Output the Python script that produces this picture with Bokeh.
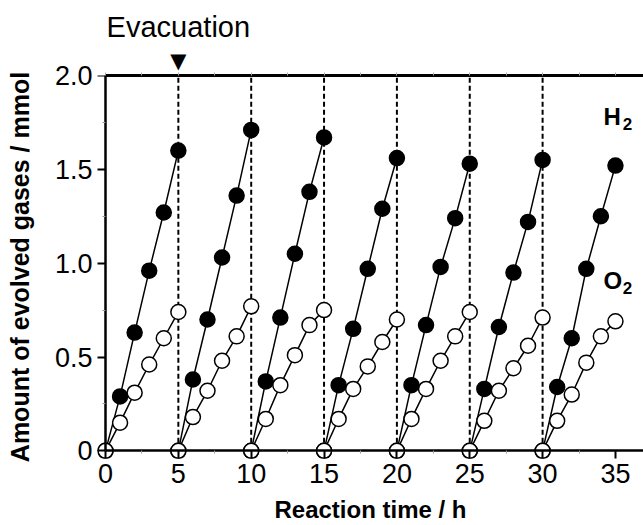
from bokeh.plotting import figure
from bokeh.models import LinearAxis, FixedTicker, Range1d
from bokeh.core.properties import value
from bokeh.embed import file_html
from bokeh.resources import INLINE

# ---------------- data ----------------
cycle_starts = [0, 5, 10, 15, 20, 25, 30]
hours_in_cycle = [0, 1, 2, 3, 4, 5]
h2_cycles = [
    [0, 0.29, 0.63, 0.96, 1.27, 1.60],
    [0, 0.38, 0.70, 1.03, 1.36, 1.71],
    [0, 0.37, 0.71, 1.05, 1.38, 1.67],
    [0, 0.35, 0.65, 0.97, 1.29, 1.56],
    [0, 0.35, 0.67, 0.98, 1.24, 1.53],
    [0, 0.33, 0.66, 0.95, 1.22, 1.55],
    [0, 0.34, 0.60, 0.97, 1.25, 1.52],
]
o2_cycles = [
    [0, 0.15, 0.31, 0.46, 0.60, 0.74],
    [0, 0.18, 0.32, 0.48, 0.61, 0.77],
    [0, 0.17, 0.35, 0.51, 0.67, 0.75],
    [0, 0.17, 0.33, 0.45, 0.58, 0.70],
    [0, 0.17, 0.33, 0.48, 0.61, 0.74],
    [0, 0.16, 0.32, 0.44, 0.56, 0.71],
    [0, 0.16, 0.30, 0.47, 0.61, 0.69],
]
evacuation_times = [5, 10, 15, 20, 25, 30]
evacuation_marker_time = 5
evacuation_text = "Evacuation"
x_ticks = [0, 5, 10, 15, 20, 25, 30, 35]
x_minor_ticks = [2.5, 7.5, 12.5, 17.5, 22.5, 27.5, 32.5]
y_ticks = [0, 0.5, 1.0, 1.5, 2.0]
y_tick_labels = ["0", "0.5", "1.0", "1.5", "2.0"]
y_minor_ticks = [0.25, 0.75, 1.25, 1.75]
x_title = "Reaction time / h"
y_title = "Amount of evolved gases / mmol"
series_names = ["H", "O"]

FONT = "Liberation Sans"
X0, X1 = -0.549, 36.925
Y0, Y1 = -0.0408, 2.0

p = figure(width=643, height=525, x_range=Range1d(X0, X1), y_range=Range1d(Y0, Y1),
           output_backend="svg", toolbar_location=None,
           x_axis_location=None, y_axis_location=None,
           min_border_left=97, min_border_right=0, min_border_top=75, min_border_bottom=65)
p.outline_line_color = None
p.xgrid.visible = False
p.ygrid.visible = False
p.background_fill_color = "white"
p.border_fill_color = "white"

# evacuation dashed lines
p.segment(x0=evacuation_times, y0=[0] * len(evacuation_times),
          x1=evacuation_times, y1=[2.0] * len(evacuation_times),
          line_color="black", line_width=2, line_dash="5 3")

# lines
xs_all = [[s + h for h in hours_in_cycle] for s in cycle_starts]
p.multi_line(xs=xs_all, ys=h2_cycles, line_color="black", line_width=1.5)
p.multi_line(xs=xs_all, ys=o2_cycles, line_color="black", line_width=1.5)

# markers
hx, hy, ox, oy = [], [], [], []
for xs, hv, ov in zip(xs_all, h2_cycles, o2_cycles):
    hx += xs; hy += hv; ox += xs; oy += ov
p.scatter(hx, hy, size=15, fill_color="black", line_color="black", line_width=1.5)
p.scatter(ox, oy, size=15, fill_color="white", line_color="black", line_width=1.5)

# ---- axis lines + ticks at data zero (fixed location) ----
yline = LinearAxis(fixed_location=0, bounds=(0, 2.0),
                   ticker=FixedTicker(ticks=y_ticks, minor_ticks=y_minor_ticks))
xline = LinearAxis(fixed_location=0, bounds=(0, X1),
                   ticker=FixedTicker(ticks=x_ticks, minor_ticks=x_minor_ticks))
for ax in (xline, yline):
    ax.axis_line_width = 2.5
    ax.axis_line_color = "black"
    ax.major_tick_line_width = 2
    ax.major_tick_out = 9
    ax.major_tick_in = 0
    ax.minor_tick_line_color = "#999999"
    ax.minor_tick_line_width = 1
    ax.minor_tick_out = 3
    ax.minor_tick_in = 0
    ax.major_label_text_font_size = "0px"
    ax.major_label_text_alpha = 0
p.add_layout(yline, "left")
p.add_layout(xline, "below")

# ---- label-only axes in the side panels ----
ylab = LinearAxis(ticker=FixedTicker(ticks=y_ticks, minor_ticks=[]))
ylab.major_label_overrides = {t: l for t, l in zip(y_ticks, y_tick_labels)}
ylab.axis_label = y_title
xlab = LinearAxis(ticker=FixedTicker(ticks=x_ticks, minor_ticks=[]))
xlab.axis_label = x_title
for ax in (xlab, ylab):
    ax.axis_line_color = None
    ax.major_tick_line_color = None
    ax.minor_tick_line_color = None
    ax.major_tick_out = 0
    ax.major_tick_in = 0
    ax.major_label_text_font = FONT
    ax.major_label_text_font_size = "27px"
    ax.major_label_text_color = "black"
    ax.axis_label_text_font = FONT
    ax.axis_label_text_font_style = "bold"
    ax.axis_label_text_color = "black"
ylab.major_label_standoff = 5
ylab.axis_label_text_font_size = "25px"
ylab.axis_label_standoff = 18
xlab.major_label_standoff = 5
xlab.axis_label_text_font_size = "24px"
xlab.axis_label_standoff = 10
p.add_layout(ylab, "left")
p.add_layout(xlab, "below")

# ---- top frame line with faint ticks and the evacuation marker ----
top_ticks = sorted(x_ticks + x_minor_ticks)
top = LinearAxis(bounds=(0, X1), ticker=FixedTicker(ticks=top_ticks, minor_ticks=[]))
top.major_label_overrides = {t: ("▼" if t == evacuation_marker_time else "") for t in top_ticks}
top.axis_line_width = 3
top.axis_line_color = "black"
top.major_tick_line_color = "#aaaaaa"
top.major_tick_out = 3
top.major_tick_in = 0
top.minor_tick_line_color = None
top.major_label_text_font = "DejaVu Sans"
top.major_label_text_font_size = "21px"
top.major_label_text_color = "black"
top.major_label_standoff = 0
p.add_layout(top, "above")

top2 = LinearAxis(ticker=FixedTicker(ticks=[evacuation_marker_time], minor_ticks=[]))
top2.major_label_overrides = {evacuation_marker_time: evacuation_text}
top2.axis_line_color = None
top2.major_tick_line_color = None
top2.minor_tick_line_color = None
top2.major_tick_out = 0
top2.major_tick_in = 0
top2.major_label_text_font = FONT
top2.major_label_text_font_size = "29px"
top2.major_label_text_color = "black"
top2.major_label_standoff = 3
p.add_layout(top2, "above")

# ---- series labels H2 / O2 ----
p.text(x=[34.18, 34.18], y=[1.71, 0.835], text=series_names,
       text_font=value(FONT), text_font_size="24px", text_font_style="bold",
       text_align="left", text_baseline="bottom", text_color="black")
p.text(x=[35.5, 35.5], y=[1.71, 0.835], text=["2", "2"],
       text_font=value(FONT), text_font_size="17px", text_font_style="bold",
       text_align="left", text_baseline="bottom", text_color="black")

open("out.html", "w").write(file_html(p, INLINE))
